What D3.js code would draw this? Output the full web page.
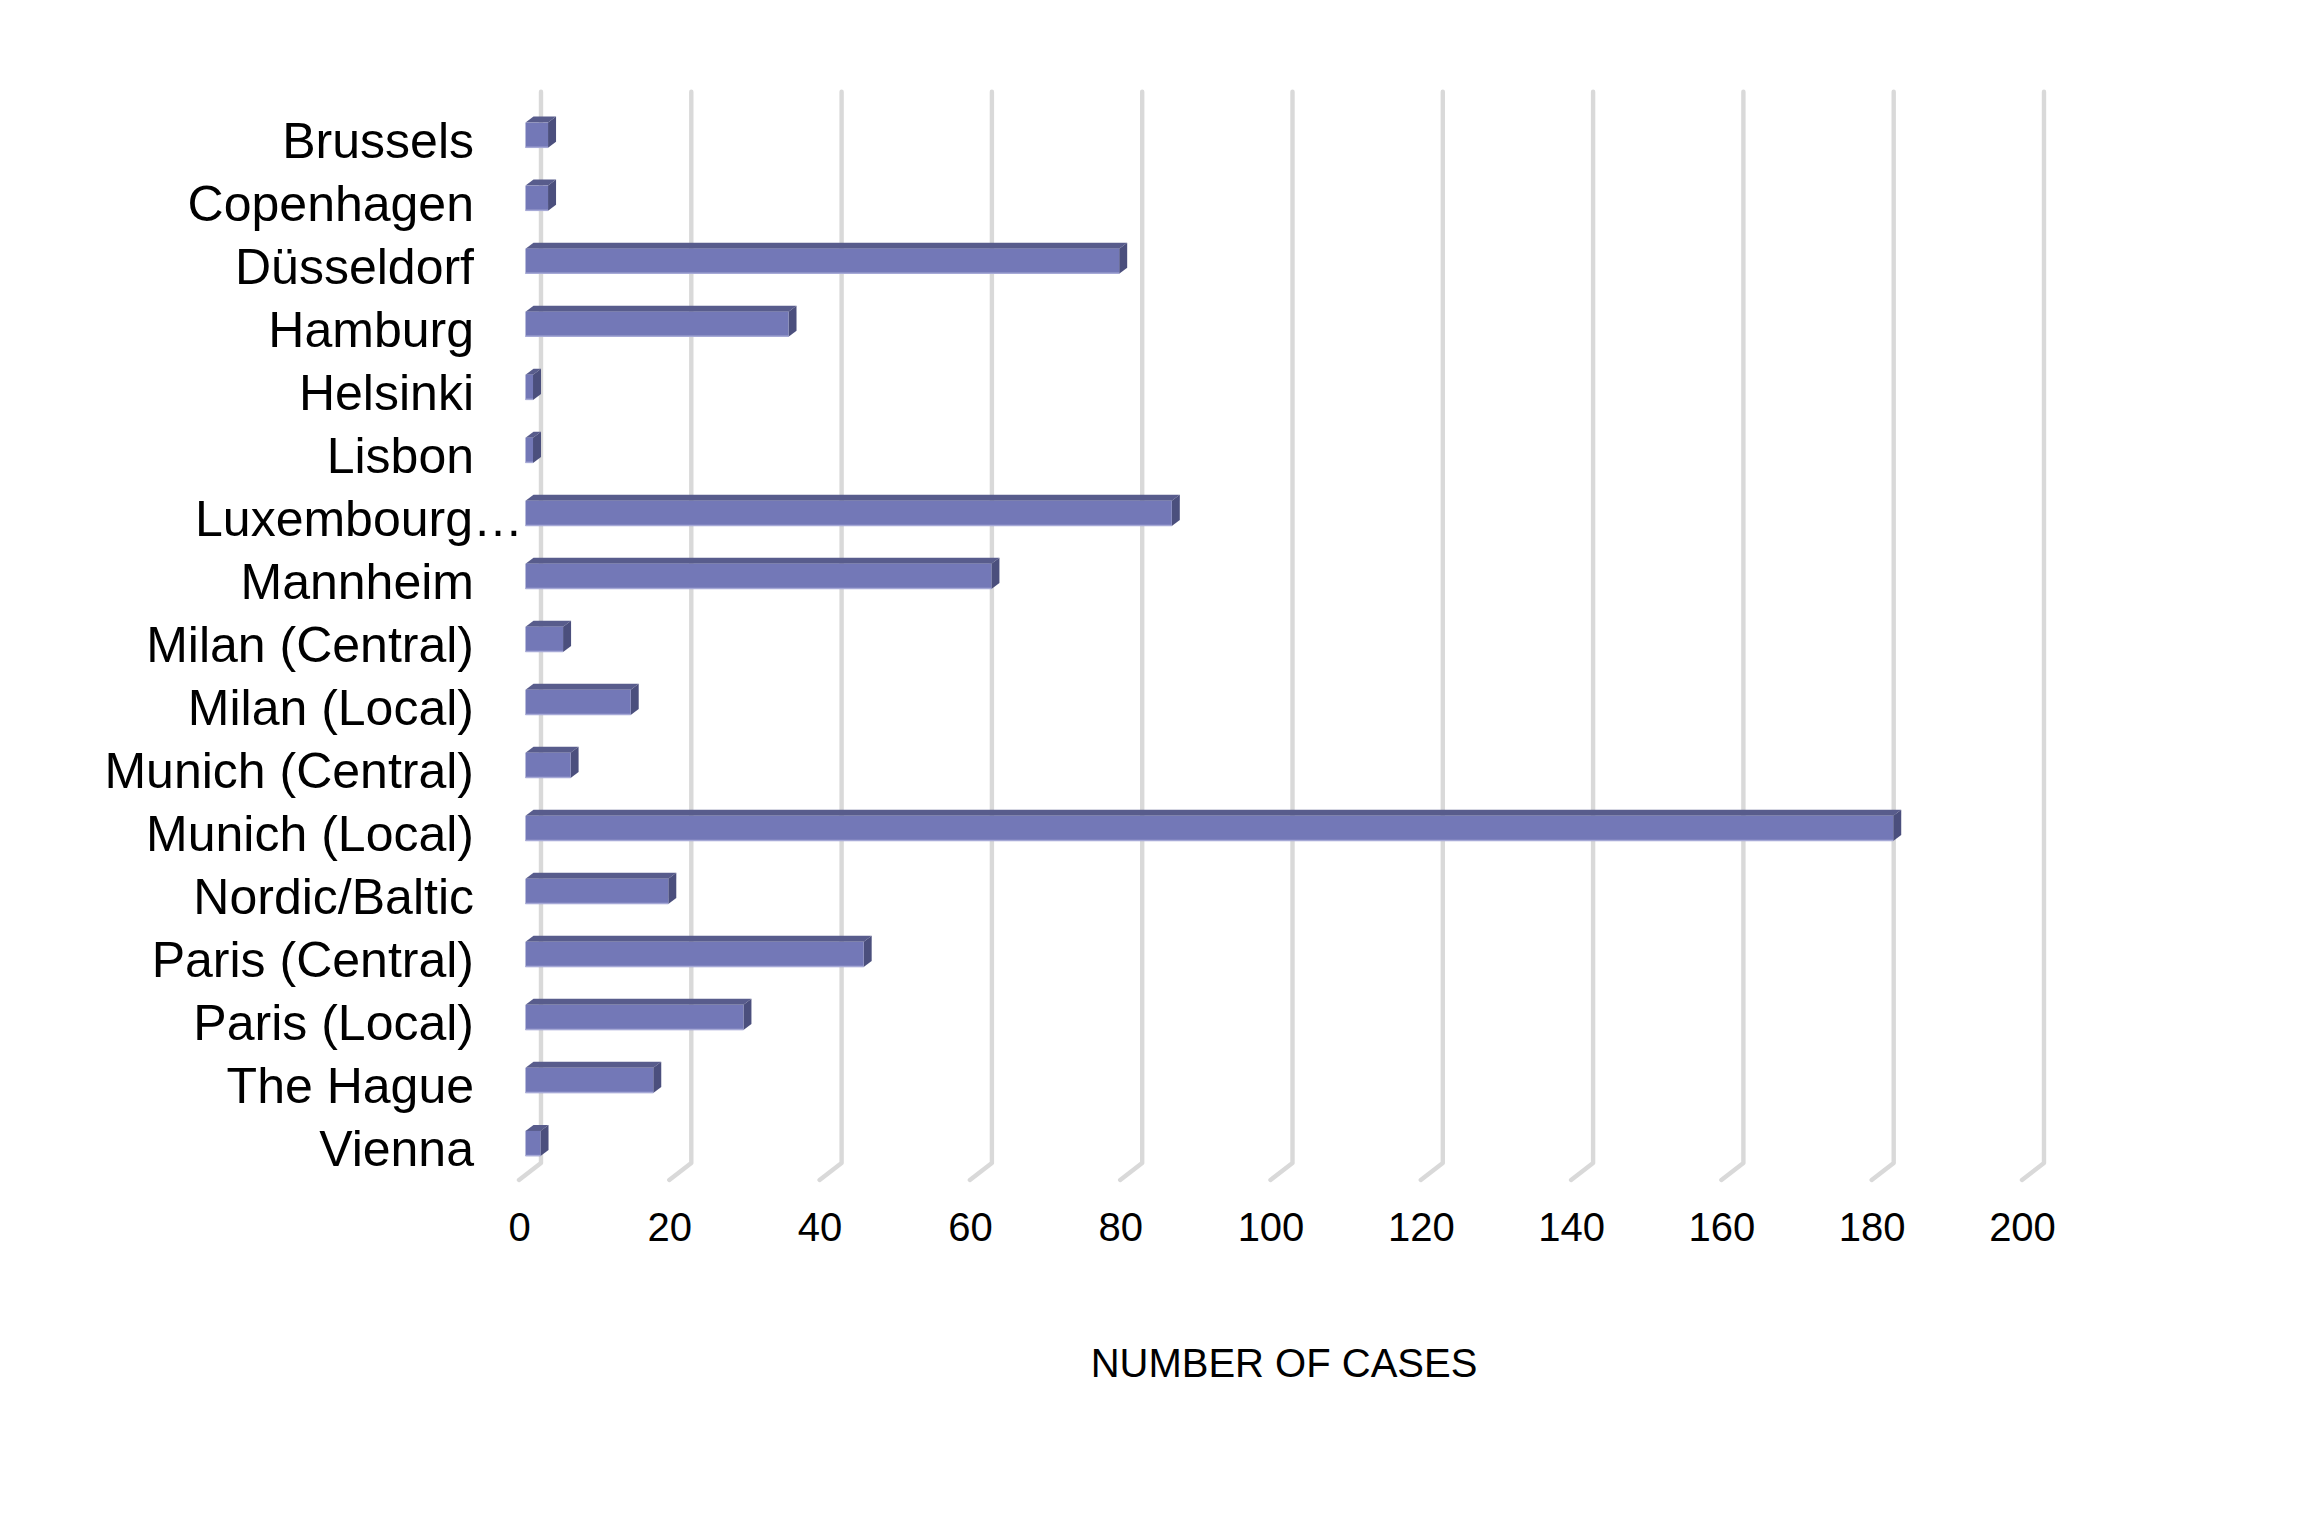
<!DOCTYPE html>
<html>
<head>
<meta charset="utf-8">
<script src="https://cdn.jsdelivr.net/npm/d3@7"></script>
<style>
html,body{margin:0;padding:0;background:#fff;}
svg{display:block;}
text{font-family:"Liberation Sans",Arial,sans-serif;fill:#000;}
</style>
</head>
<body>
<svg id="chart" width="2310" height="1527"></svg>
<script>
const categories = ["Brussels","Copenhagen","Düsseldorf","Hamburg","Helsinki","Lisbon","Luxembourg…","Mannheim","Milan (Central)","Milan (Local)","Munich (Central)","Munich (Local)","Nordic/Baltic","Paris (Central)","Paris (Local)","The Hague","Vienna"];
const values = [3,3,79,35,1,1,86,62,5,14,6,182,19,45,29,17,2];
const tickValues = [0,20,40,60,80,100,120,140,160,180,200];
const axisTitle = "NUMBER OF CASES";

const svg = d3.select("#chart");
const W = 2310, H = 1527;
svg.append("rect").attr("width",W).attr("height",H).attr("fill","#fff");

// front plane geometry
const frontLeft = 519, frontRight = 2022, frontTop = 108.7, frontBottom = 1180;
const depth = {dx: 22, dy: -17};       // front plane -> back wall
const barOff = {dx: 6.5, dy: -5};      // front plane -> bar front face
const barDepth = {dx: 8, dy: -6};      // bar front -> bar back

const x = d3.scaleLinear().domain([0,200]).range([frontLeft, frontRight]);
const y = d3.scaleBand().domain(categories).range([frontTop, frontBottom]).paddingInner(0.6).paddingOuter(0.3);

// gridlines on the back wall + floor diagonals
const grid = svg.append("g").attr("fill","none").attr("stroke","#d9d9d9").attr("stroke-width",4.4).attr("stroke-linejoin","round").attr("stroke-linecap","round");
tickValues.forEach(t => {
  const bx = x(t) + depth.dx;
  grid.append("path").attr("d",
    `M${bx},${frontTop + depth.dy}L${bx},${frontBottom + depth.dy}L${x(t)},${frontBottom}`);
});

// bars (3D boxes)
const bars = svg.append("g");
categories.forEach((c,i) => {
  const v = values[i];
  const x0 = x(0) + barOff.dx, x1 = x(v) + barOff.dx;
  const y0 = y(c) + barOff.dy, y1 = y0 + y.bandwidth();
  const g = bars.append("g");
  // top face
  g.append("path").attr("d",
    `M${x0},${y0}L${x0+barDepth.dx},${y0+barDepth.dy}L${x1+barDepth.dx},${y0+barDepth.dy}L${x1},${y0}Z`)
    .attr("fill","#585c8c");
  // right face
  g.append("path").attr("d",
    `M${x1},${y0}L${x1+barDepth.dx},${y0+barDepth.dy}L${x1+barDepth.dx},${y1+barDepth.dy}L${x1},${y1}Z`)
    .attr("fill","#4b4f7d");
  // front face
  g.append("rect").attr("x",x0).attr("y",y0).attr("width",x1-x0).attr("height",y1-y0)
    .attr("fill","#7378b7");
  g.append("line").attr("x1",x0).attr("x2",x1).attr("y1",y1-0.5).attr("y2",y1-0.5)
    .attr("stroke","#a6a9d6").attr("stroke-width",1.5);
});

// value axis labels
const xAxis = d3.axisBottom(x).tickValues(tickValues).tickSize(0).tickPadding(0);
const xg = svg.append("g").attr("transform",`translate(0,1227)`).call(xAxis);
xg.select(".domain").remove();
xg.selectAll("text").attr("font-size",40).attr("dy","0.35em").attr("y",0)
  .style("font-family",'"Liberation Sans",Arial,sans-serif').attr("fill","#000");

// category labels
const yAxis = d3.axisLeft(y).tickSize(0).tickPadding(0);
const yg = svg.append("g").attr("transform",`translate(474,0)`).call(yAxis);
yg.select(".domain").remove();
yg.selectAll("text").attr("font-size",50).attr("dy","0.35em")
  .style("font-family",'"Liberation Sans",Arial,sans-serif').attr("fill","#000")
  .attr("x", d => d.endsWith("…") ? 49 : 0);

// axis title
svg.append("text").attr("x",1284).attr("y",1363).attr("dy","0.35em")
  .attr("text-anchor","middle").attr("font-size",40).text(axisTitle);
</script>
</body>
</html>
